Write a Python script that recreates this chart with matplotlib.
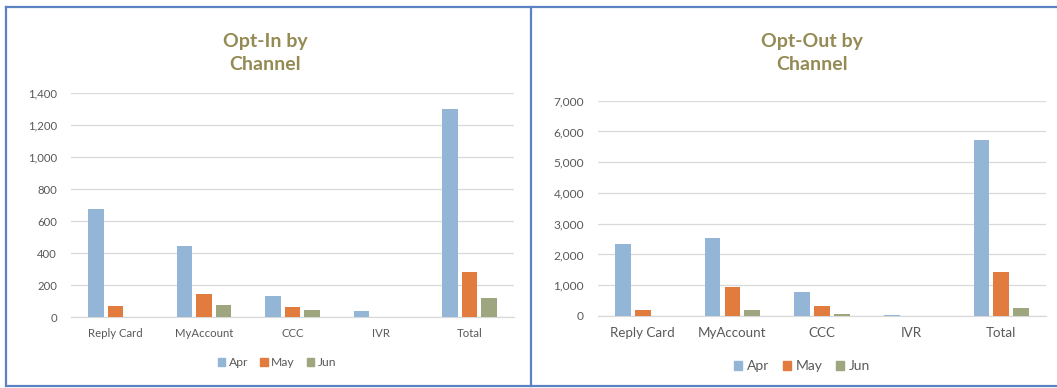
import matplotlib.pyplot as plt
import numpy as np
from matplotlib.lines import Line2D
from matplotlib.patches import Patch

plt.rcParams['font.family'] = ['Lato', 'DejaVu Sans']

channels = ["Reply Card", "MyAccount", "CCC", "IVR", "Total"]
months = ["Apr", "May", "Jun"]

optin_apr = [675, 444, 133, 38, 1300]
optin_may = [67, 146, 62, 0, 279]
optin_jun = [0, 75, 44, 0, 119]

optout_apr = [2330, 2535, 780, 43, 5710]
optout_may = [185, 932, 335, 0, 1440]
optout_jun = [0, 185, 75, 0, 270]

colors = ['#93B5D6', '#E17C3E', '#9DA67E']
title_color = '#948A54'
text_color = '#595959'
grid_color = '#D9D9D9'
border_color = '#5B83C4'

W, H = 1057, 388
fig = plt.figure(figsize=(W / 100, H / 100), dpi=100)


def px_axes(x0, x1, y_top, y_bot):
    return fig.add_axes([x0 / W, 1 - y_bot / H, (x1 - x0) / W, (y_bot - y_top) / H])


def draw(ax, series, ymax, ystep, tick_fs, xtick_fs):
    x = np.arange(len(channels))
    width = 0.176
    pitch = 0.221
    for i, vals in enumerate(series):
        ax.bar(x + (i - 1) * pitch, vals, width, color=colors[i], zorder=3)
    ax.set_xlim(-0.5, len(channels) - 0.5)
    ax.set_ylim(0, ymax)
    ax.set_yticks(np.arange(0, ymax + 1, ystep))
    ax.set_yticklabels([f"{int(v):,}" for v in np.arange(0, ymax + 1, ystep)])
    ax.set_xticks(x)
    ax.set_xticklabels(channels)
    ax.tick_params(axis='y', length=0, pad=10, labelsize=tick_fs, labelcolor=text_color)
    ax.tick_params(axis='x', length=0, pad=8, labelsize=xtick_fs, labelcolor=text_color)
    ax.grid(axis='y', color=grid_color, lw=0.9, zorder=0)
    for s in ['top', 'right', 'left']:
        ax.spines[s].set_visible(False)
    ax.spines['bottom'].set_color(grid_color)
    ax.spines['bottom'].set_linewidth(0.9)


ax1 = px_axes(71, 514, 93, 317)
draw(ax1, [optin_apr, optin_may, optin_jun], 1400, 200, 8.2, 8.2)
ax2 = px_axes(598, 1046, 100.7, 316)
draw(ax2, [optout_apr, optout_may, optout_jun], 7000, 1000, 8.6, 9.6)

fig.text(265 / W, 1 - 53 / H, "Opt-In by\nChannel", ha='center', va='center',
         fontsize=14, fontweight='bold', color=title_color, linespacing=1.4)
fig.text(812 / W, 1 - 53 / H, "Opt-Out by\nChannel", ha='center', va='center',
         fontsize=14, fontweight='bold', color=title_color, linespacing=1.4)

handles = [Patch(color=c, label=m) for c, m in zip(colors, months)]
fig.legend(handles=handles, loc='center', bbox_to_anchor=(277 / W, 1 - 363 / H), ncol=3,
           frameon=False, fontsize=8.7, handlelength=0.6, handleheight=0.6,
           handletextpad=0.3, columnspacing=1.0, labelcolor=text_color)
fig.legend(handles=handles, loc='center', bbox_to_anchor=(802 / W, 1 - 366 / H), ncol=3,
           frameon=False, fontsize=10, handlelength=0.6, handleheight=0.6,
           handletextpad=0.3, columnspacing=1.0, labelcolor=text_color)

# panel borders
for xs, ys in [([6, W], [7, 7]), ([6, 6], [7, 386]), ([531, 531], [7, 386]), ([6, W], [386, 386])]:
    fig.add_artist(Line2D([x / W for x in xs], [1 - y / H for y in ys], color=border_color, lw=1.6))

fig.savefig("out.png", dpi=100, facecolor='white')
